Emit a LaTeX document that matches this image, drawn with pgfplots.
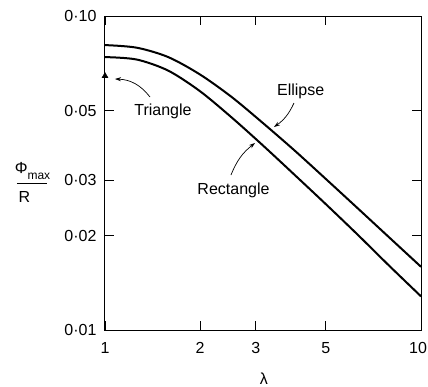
\documentclass[border=0pt]{standalone}
\usepackage{fontspec}
\setmainfont{Liberation Sans}
\usepackage{pgfplots}
\pgfplotsset{compat=1.18}
\usetikzlibrary{arrows.meta}
\begin{document}
\begin{tikzpicture}[font=\fontsize{16bp}{19bp}\selectfont]
\path[use as bounding box] (-105bp,-57bp) rectangle (323bp,330bp);
\begin{axis}[
  at={(0,0)}, anchor=south west,
  scale only axis, width=316bp, height=314bp,
  xmode=log, ymode=log,
  xmin=1, xmax=10, ymin=0.01, ymax=0.1,
  xtick={1,2,3,5,10}, xticklabels={1,2,3,5,{\hspace{-6bp}10}},
  ytick={0.01,0.02,0.03,0.05,0.1},
  yticklabels={0·01,0·02,0·03,0·05,0·10},
  minor tick length=0pt,
  minor tick style={draw=none},
  major tick length=9bp,
  tick align=inside,
  tick label style={font=\fontsize{16bp}{19bp}\selectfont},
  xticklabel style={yshift=-9bp},
  yticklabel style={xshift=-5bp},
  axis line style={line width=1bp},
  every tick/.style={black, line width=0.9bp},
  clip=false,
]
% Ellipse
\addplot[black, line width=2bp, smooth] coordinates {
  (1,0.0808) (1.259,0.0793) (1.585,0.0740) (1.995,0.0652) (2.512,0.0553)
  (3.162,0.0456) (3.981,0.0373) (5.012,0.0302) (6.310,0.0244) (7.943,0.0197) (10,0.0159)};
% Rectangle
\addplot[black, line width=2bp, smooth] coordinates {
  (1,0.0740) (1.259,0.0727) (1.585,0.0670) (1.995,0.0577) (2.512,0.0476)
  (3.162,0.0387) (3.981,0.0312) (5.012,0.0251) (6.310,0.0201) (7.943,0.0160) (10,0.0128)};
% Triangle
\addplot[black, only marks, mark=triangle*, mark size=3.5bp] coordinates {(1,0.0644)};
\node[anchor=base] at (rel axis cs:0.1835,0.6847) {Triangle};
\node[anchor=base] at (rel axis cs:0.6193,0.7484) {Ellipse};
\node[anchor=base] at (rel axis cs:0.4066,0.43) {Rectangle};
\draw[line width=0.7bp, -{Stealth[length=6bp,width=4bp]}] (rel axis cs:0.1424,0.742) to[bend right=25] (rel axis cs:0.0316,0.7994);
\draw[line width=0.7bp, -{Stealth[length=6bp,width=4bp]}] (rel axis cs:0.598,0.7229) to[bend left=15] (rel axis cs:0.5348,0.6465);
\draw[line width=0.7bp, -{Stealth[length=6bp,width=4bp]}] (rel axis cs:0.3987,0.4936) to[bend left=15] (rel axis cs:0.4747,0.5955);
\node[anchor=base] at (rel axis cs:-0.2294,0.5) {Φ\raisebox{-6bp}{\fontsize{12bp}{12bp}\selectfont max}};
\draw[line width=0.9bp] (rel axis cs:-0.2785,0.468) -- (rel axis cs:-0.1835,0.468);
\node[anchor=base] at (rel axis cs:-0.2547,0.4045) {R};
\node[anchor=base] at (rel axis cs:0.503,-0.175) {λ};
\end{axis}
\end{tikzpicture}
\end{document}
